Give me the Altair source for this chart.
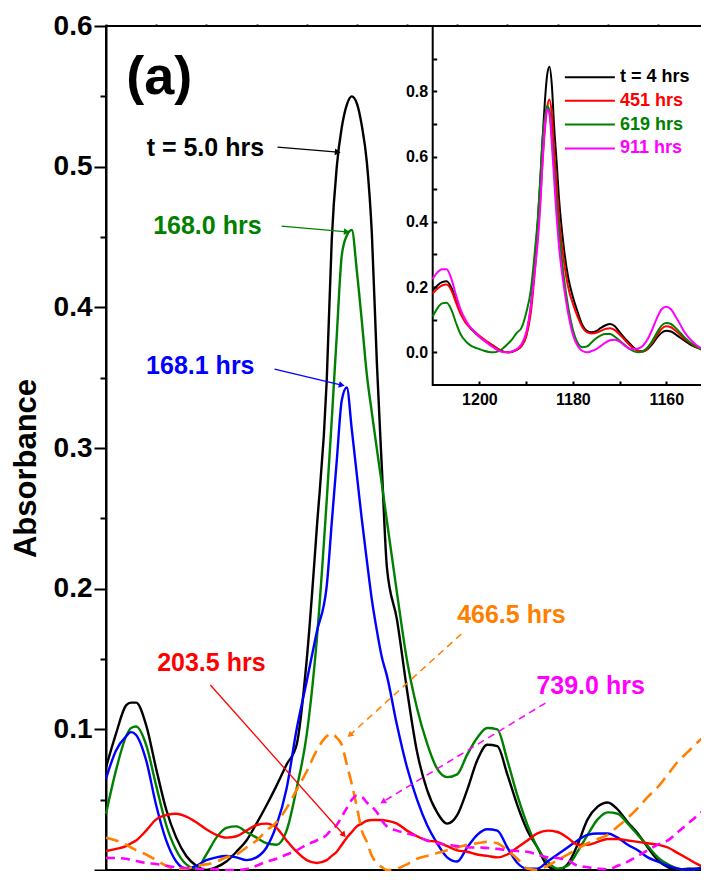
import altair as alt
import pandas as pd

FONT = "Liberation Sans"

# ---------------- main panel (wavenumber, cm-1 -> absorbance) ----------------
wavenumber = [1210, 1209, 1208, 1207.5, 1207, 1206, 1205, 1204, 1203, 1202, 1201,
              1200, 1199, 1198, 1197, 1196, 1195, 1194, 1193, 1192, 1191,
              1190, 1189, 1188, 1187.5, 1187, 1186.5, 1186, 1185.5, 1185, 1184.5,
              1184, 1183.5, 1183, 1182.5, 1182, 1181, 1180, 1179, 1178, 1177,
              1176, 1175, 1174, 1173, 1172, 1171, 1170, 1169, 1168, 1167,
              1166, 1165, 1164, 1163, 1162, 1161, 1160, 1159, 1158, 1157,
              1156, 1155, 1154, 1153, 1152, 1151, 1150]

abs_5h = [0.073, 0.097, 0.117, 0.119, 0.119, 0.103, 0.072, 0.043, 0.023, 0.010, 0.003,
          0.000, 0.002, 0.006, 0.013, 0.021, 0.033, 0.046, 0.060, 0.075, 0.089,
          0.149, 0.242, 0.348, 0.448, 0.500, 0.528, 0.544, 0.550, 0.545, 0.529,
          0.503, 0.452, 0.360, 0.285, 0.215, 0.178, 0.128, 0.084, 0.057, 0.041,
          0.033, 0.039, 0.057, 0.078, 0.089, 0.088, 0.068, 0.046, 0.028, 0.016,
          0.003, 0.000, 0.004, 0.018, 0.036, 0.045, 0.048, 0.043, 0.034, 0.026,
          0.016, 0.007, 0.002, 0.000, 0.001, 0.001, 0.003]

abs_168_0 = [0.040, 0.071, 0.095, 0.101, 0.102, 0.089, 0.060, 0.032, 0.014, 0.004, 0.001,
             0.011, 0.023, 0.030, 0.031, 0.027, 0.023, 0.019, 0.018, 0.028, 0.058,
             0.096, 0.163, 0.263, 0.320, 0.380, 0.437, 0.451, 0.455, 0.426, 0.390,
             0.352, 0.325, 0.299, 0.274, 0.248, 0.197, 0.149, 0.115, 0.090, 0.072,
             0.066, 0.068, 0.082, 0.094, 0.101, 0.100, 0.078, 0.053, 0.032, 0.016,
             0.006, 0.001, 0.003, 0.013, 0.025, 0.036, 0.041, 0.040, 0.033, 0.025,
             0.017, 0.009, 0.004, 0.001, 0.000, 0.001, 0.006]

abs_168_1 = [0.065, 0.085, 0.095, 0.098, 0.096, 0.078, 0.046, 0.021, 0.006, 0.001, 0.003,
             0.007, 0.009, 0.010, 0.009, 0.007, 0.009, 0.016, 0.032, 0.058, 0.100,
             0.134, 0.169, 0.202, 0.247, 0.291, 0.334, 0.343, 0.313, 0.281, 0.249,
             0.220, 0.192, 0.170, 0.151, 0.138, 0.103, 0.073, 0.050, 0.032, 0.019,
             0.009, 0.006, 0.016, 0.025, 0.029, 0.028, 0.016, 0.005, 0.001, 0.001,
             0.006, 0.011, 0.016, 0.021, 0.025, 0.026, 0.026, 0.023, 0.018, 0.014,
             0.009, 0.006, 0.003, 0.001, 0.000, 0.001, 0.002]

abs_203_5 = [0.0135, 0.015, 0.017, 0.019, 0.021, 0.028, 0.036, 0.039, 0.040, 0.038, 0.034,
             0.029, 0.025, 0.023, 0.024, 0.028, 0.032, 0.033, 0.030, 0.021, 0.013,
             0.007, 0.005, 0.007, 0.010, 0.013, 0.018, 0.023, 0.027, 0.031, 0.033,
             0.035, 0.0355, 0.0355, 0.0355, 0.035, 0.033, 0.028, 0.024, 0.021, 0.020,
             0.017, 0.014, 0.013, 0.011, 0.010, 0.009, 0.011, 0.016, 0.021, 0.026,
             0.028, 0.027, 0.023, 0.018, 0.018, 0.020, 0.022, 0.022, 0.021, 0.020,
             0.019, 0.018, 0.016, 0.012, 0.008, 0.004, 0.001]

abs_466_5 = [0.023, 0.021, 0.018, 0.016, 0.014, 0.011, 0.007, 0.003, 0.001, 0.001, 0.003,
             0.004, 0.006, 0.009, 0.011, 0.016, 0.021, 0.028, 0.034, 0.044, 0.057,
             0.070, 0.085, 0.095, 0.097, 0.094, 0.089, 0.075, 0.061, 0.045, 0.028,
             0.020, 0.010, 0.005, 0.002, 0.000, 0.001, 0.004, 0.008, 0.010, 0.012,
             0.014, 0.016, 0.018, 0.019, 0.020, 0.019, 0.014, 0.008, 0.001, 0.000,
             0.003, 0.007, 0.011, 0.015, 0.019, 0.022, 0.025, 0.031, 0.037, 0.044,
             0.052, 0.059, 0.068, 0.077, 0.084, 0.091, 0.097]

abs_739_0 = [0.0085, 0.0085, 0.008, 0.0072, 0.0064, 0.005, 0.0043, 0.003, 0.002, 0.0014, 0.0007,
             0.0007, 0.0004, 0.000, 0.000, 0.0007, 0.003, 0.006, 0.008, 0.011, 0.014,
             0.018, 0.021, 0.025, 0.029, 0.032, 0.038, 0.044, 0.050, 0.053, 0.052,
             0.048, 0.045, 0.041, 0.035, 0.031, 0.028, 0.026, 0.024, 0.021, 0.019,
             0.018, 0.017, 0.016, 0.016, 0.0156, 0.015, 0.014, 0.0135, 0.013, 0.011,
             0.009, 0.0085, 0.007, 0.003, 0.002, 0.001, 0.0005, 0.003, 0.006, 0.010,
             0.014, 0.018, 0.021, 0.027, 0.033, 0.039, 0.045]

main_series = [
    ("t = 5.0 hrs", abs_5h, "#000000", None),
    ("168.0 hrs", abs_168_0, "#008000", None),
    ("168.1 hrs", abs_168_1, "#0000ff", None),
    ("203.5 hrs", abs_203_5, "#ff0000", None),
    ("466.5 hrs", abs_466_5, "#ff8000", [13, 7]),
    ("739.0 hrs", abs_739_0, "#ff00ff", [9, 6]),
]

# annotation labels (text, wavenumber, absorbance, colour)
ann_text = ["t = 5.0 hrs", "168.0 hrs", "168.1 hrs", "203.5 hrs", "466.5 hrs", "739.0 hrs"]
ann_wn = [1200.1, 1199.9, 1200.6, 1199.5, 1169.6, 1161.7]
ann_abs = [0.5132, 0.4577, 0.3582, 0.1471, 0.1812, 0.1308]
ann_color = ["#000000", "#008000", "#0000ff", "#ff0000", "#ff8000", "#ff00ff"]

# annotation arrows (start -> end)
arr_wn = [1192.9, 1192.5, 1193.2, 1199.6, 1174.6, 1166.2]
arr_abs = [0.5139, 0.4577, 0.3561, 0.1315, 0.1677, 0.1187]
arr_wn2 = [1186.9, 1186.0, 1186.5, 1186.3, 1185.7, 1182.4]
arr_abs2 = [0.5103, 0.4537, 0.3447, 0.0249, 0.0959, 0.0485]
arr_color = ["#000000", "#008000", "#0000ff", "#ff0000", "#ff8000", "#ff00ff"]
arr_dashed = [False, False, False, False, True, True]
arr_angle = [5, 5, 13.5, 48.3, 137.9, 148.7]

# ---------------- inset data ----------------
inset_wn = [1210, 1209, 1208, 1207, 1206, 1205, 1204, 1203, 1202, 1201, 1200,
            1199, 1198, 1197, 1196, 1195, 1194, 1193, 1192, 1191, 1190,
            1189, 1188, 1187.5, 1187, 1186.5, 1186, 1185.5, 1185, 1184.5, 1184, 1183.5, 1183,
            1182, 1181, 1180, 1179, 1178, 1177, 1176, 1175, 1174, 1173,
            1172, 1171, 1170, 1169, 1168, 1167, 1166, 1165, 1164, 1163,
            1162, 1161, 1160, 1159, 1158, 1157, 1156, 1155, 1154, 1153,
            1152, 1151]

in_4 = [0.190, 0.205, 0.215, 0.218, 0.198, 0.160, 0.122, 0.095, 0.076, 0.061, 0.048,
        0.037, 0.028, 0.020, 0.010, 0.003, 0.000, 0.002, 0.008, 0.020, 0.050,
        0.140, 0.300, 0.400, 0.520, 0.650, 0.765, 0.850, 0.875, 0.820, 0.690, 0.590, 0.480,
        0.330, 0.230, 0.170, 0.125, 0.085, 0.066, 0.062, 0.065, 0.075, 0.083,
        0.087, 0.080, 0.062, 0.045, 0.030, 0.015, 0.005, 0.003, 0.010, 0.025,
        0.045, 0.060, 0.066, 0.064, 0.055, 0.045, 0.035, 0.025, 0.018, 0.012,
        0.006, 0.002]

in_451 = [0.180, 0.195, 0.205, 0.208, 0.190, 0.152, 0.117, 0.092, 0.076, 0.063, 0.051,
          0.040, 0.030, 0.020, 0.010, 0.003, 0.000, 0.002, 0.008, 0.020, 0.048,
          0.120, 0.270, 0.360, 0.460, 0.580, 0.680, 0.750, 0.775, 0.730, 0.620, 0.520, 0.420,
          0.290, 0.200, 0.150, 0.110, 0.078, 0.062, 0.058, 0.060, 0.066, 0.072,
          0.074, 0.068, 0.055, 0.040, 0.025, 0.012, 0.004, 0.003, 0.012, 0.030,
          0.052, 0.072, 0.080, 0.077, 0.066, 0.053, 0.040, 0.030, 0.020, 0.013,
          0.007, 0.003]

in_619 = [0.110, 0.135, 0.150, 0.152, 0.130, 0.090, 0.055, 0.035, 0.022, 0.015, 0.010,
          0.005, 0.001, 0.000, 0.003, 0.012, 0.025, 0.040, 0.060, 0.075, 0.120,
          0.190, 0.330, 0.410, 0.520, 0.650, 0.720, 0.755, 0.740, 0.660, 0.560, 0.460, 0.380,
          0.240, 0.140, 0.070, 0.030, 0.016, 0.018, 0.030, 0.043, 0.052, 0.056,
          0.056, 0.048, 0.036, 0.024, 0.012, 0.004, 0.000, 0.004, 0.015, 0.035,
          0.060, 0.082, 0.090, 0.087, 0.075, 0.060, 0.045, 0.032, 0.022, 0.013,
          0.007, 0.003]

in_911 = [0.225, 0.245, 0.255, 0.255, 0.225, 0.175, 0.130, 0.100, 0.078, 0.062, 0.048,
          0.036, 0.025, 0.015, 0.006, 0.001, 0.000, 0.003, 0.010, 0.025, 0.060,
          0.140, 0.270, 0.340, 0.440, 0.580, 0.690, 0.745, 0.730, 0.640, 0.530, 0.420, 0.330,
          0.210, 0.120, 0.055, 0.020, 0.005, 0.000, 0.004, 0.010, 0.020, 0.030,
          0.037, 0.039, 0.033, 0.022, 0.012, 0.010, 0.012, 0.020, 0.040, 0.070,
          0.105, 0.132, 0.140, 0.132, 0.110, 0.085, 0.060, 0.042, 0.028, 0.017,
          0.009, 0.004]

inset_series = [
    ("t = 4 hrs", in_4, "#000000"),
    ("451 hrs", in_451, "#ff0000"),
    ("619 hrs", in_619, "#008000"),
    ("911 hrs", in_911, "#ff00ff"),
]
legend_abs = [0.843, 0.771, 0.698, 0.625]

# ---------------- scales / axes ----------------
W, H = 602, 844
main_xs = alt.Scale(domain=[1150, 1210], reverse=True, nice=False, zero=False)
main_ys = alt.Scale(domain=[0, 0.6], nice=False, zero=False)

main_xaxis = alt.Axis(orient="bottom", values=list(range(1150, 1211, 5)), labels=False,
                      title=None, grid=False, domainWidth=2, tickWidth=2,
                      tickSize={"condition": {"test": "datum.value % 10 == 0", "value": 10}, "value": 6})
main_yaxis = alt.Axis(orient="left", values=[round(0.05 * i, 2) for i in range(13)],
                      labelExpr="(round(datum.value*100) % 10 == 0 && datum.value > 0) ? format(datum.value, '.1f') : ''",
                      title="Absorbance", titleFontSize=31, titlePadding=11, titleY=442,
                      labelFontSize=28, labelPadding=2, grid=False, domainWidth=2, tickWidth=2,
                      tickSize={"condition": {"test": "round(datum.value*100) % 10 == 0", "value": 12}, "value": 6})

def mX(field="wn"):
    return alt.X(f"{field}:Q", scale=main_xs, axis=main_xaxis)

def mY(field="A"):
    return alt.Y(f"{field}:Q", scale=main_ys, axis=main_yaxis)

main_layers = []
for name, vals, col, dash in main_series:
    df = pd.DataFrame({"wn": wavenumber, "A": vals})
    kw = dict(color=col, strokeWidth=2.4, interpolate="monotone")
    if dash:
        kw["strokeDash"] = dash
        kw["strokeWidth"] = 2.6
    main_layers.append(
        alt.Chart(df).mark_line(**kw).encode(
            x=mX(), y=mY(), order=alt.Order("wn:Q", sort="descending"))
    )

ann_df = pd.DataFrame({"wn": ann_wn, "A": ann_abs, "t": ann_text, "c": ann_color})
main_layers.append(
    alt.Chart(ann_df).mark_text(font=FONT, fontWeight="bold", fontSize=25, align="center",
                                baseline="middle").encode(
        x=mX(), y=mY(), text="t:N", color=alt.Color("c:N", scale=None))
)
tag_df = pd.DataFrame({"wn": [1204.7], "A": [0.563], "t": ["(a)"]})
main_layers.append(
    alt.Chart(tag_df).mark_text(font=FONT, fontWeight="bold", fontSize=54, align="center",
                                baseline="middle", color="black").encode(
        x=mX(), y=mY(), text="t:N")
)

arr_df = pd.DataFrame({"wn": arr_wn, "A": arr_abs, "wn2": arr_wn2, "A2": arr_abs2,
                       "c": arr_color, "dashed": arr_dashed, "ang": arr_angle})
solid_arr = arr_df[~arr_df["dashed"]]
dash_arr = arr_df[arr_df["dashed"]]
main_layers.append(
    alt.Chart(solid_arr).mark_rule(strokeWidth=1.3).encode(
        x=mX(), x2="wn2:Q", y=mY(), y2="A2:Q", color=alt.Color("c:N", scale=None))
)
main_layers.append(
    alt.Chart(dash_arr).mark_rule(strokeWidth=1.5, strokeDash=[7, 5]).encode(
        x=mX(), x2="wn2:Q", y=mY(), y2="A2:Q", color=alt.Color("c:N", scale=None))
)
main_layers.append(
    alt.Chart(arr_df).mark_point(shape="triangle-right", filled=True, size=45, opacity=1).encode(
        x=alt.X("wn2:Q", scale=main_xs, axis=main_xaxis),
        y=alt.Y("A2:Q", scale=main_ys, axis=main_yaxis),
        angle=alt.Angle("ang:Q", scale=None),
        color=alt.Color("c:N", scale=None))
)

main = alt.layer(*main_layers)

# mirror axes (top / right ticks of the frame)
mirror = alt.Chart(pd.DataFrame({"wn": [1180], "A": [0.3]})).mark_point(opacity=0).encode(
    x=alt.X("wn:Q", scale=main_xs,
            axis=alt.Axis(orient="top", values=list(range(1150, 1211, 5)), labels=False,
                          domain=False, tickSize=2, tickWidth=2, title=None, grid=False)),
    y=alt.Y("A:Q", scale=main_ys,
            axis=alt.Axis(orient="right", values=[round(0.05 * i, 2) for i in range(13)],
                          labels=False, domain=False, tickSize=5, tickWidth=2, offset=-5,
                          title=None, grid=False)),
)

# ---------------- inset ----------------
in_xs = alt.Scale(domain=[1151, 1210], range=[602.3, 326.7], nice=False, zero=False)
in_ys = alt.Scale(domain=[-0.1, 1.0], range=[359, 0], nice=False, zero=False)
in_xaxis = alt.Axis(orient="bottom", offset=-489, values=[1200, 1190, 1180, 1170, 1160],
                    labelExpr="datum.value % 20 == 0 ? format(datum.value, 'd') : ''",
                    domain=False, tickSize=4, tickWidth=2, labelFontSize=16, labelPadding=6,
                    title=None, grid=False, zindex=1)
in_yaxis = alt.Axis(orient="left", offset=-330.7, values=[round(0.1 * i, 1) for i in range(10)],
                    labelExpr="round(datum.value*10) % 2 == 0 ? format(datum.value, '.1f') : ''",
                    domain=False, tickSize=4, tickWidth=2, labelFontSize=16, labelPadding=5,
                    title=None, grid=False, zindex=1)

def iX(field="wn"):
    return alt.X(f"{field}:Q", scale=in_xs, axis=in_xaxis)

def iY(field="A"):
    return alt.Y(f"{field}:Q", scale=in_ys, axis=in_yaxis)

inset_layers = [
    alt.Chart(pd.DataFrame({"wn": [1210], "wn2": [1151], "A": [-0.1], "A2": [1.0]}))
    .mark_rect(fill="white", stroke="black", strokeWidth=2)
    .encode(x=iX(), x2="wn2:Q", y=iY(), y2="A2:Q")
]
for name, vals, col in inset_series:
    df = pd.DataFrame({"wn": inset_wn, "A": vals})
    inset_layers.append(
        alt.Chart(df).mark_line(color=col, strokeWidth=2, interpolate="monotone").encode(
            x=iX(), y=iY(), order=alt.Order("wn:Q", sort="descending"))
    )

leg_df = pd.DataFrame({
    "wn": [1181.7] * 4, "wn2": [1171.0] * 4, "wt": [1169.9] * 4,
    "A": legend_abs, "t": [s[0] for s in inset_series], "c": [s[2] for s in inset_series]})
inset_layers.append(
    alt.Chart(leg_df).mark_rule(strokeWidth=2).encode(
        x=iX(), x2="wn2:Q", y=iY(), color=alt.Color("c:N", scale=None))
)
inset_layers.append(
    alt.Chart(leg_df).mark_text(font=FONT, fontWeight="bold", fontSize=18, align="left",
                                baseline="middle").encode(
        x=alt.X("wt:Q", scale=in_xs, axis=in_xaxis), y=iY(), text="t:N",
        color=alt.Color("c:N", scale=None))
)
inset = alt.layer(*inset_layers)

chart = (
    alt.layer(main, mirror, inset)
    .resolve_scale(x="independent", y="independent")
    .properties(width=W, height=H, autosize=alt.AutoSizeParams(type="none"),
                padding={"left": 98, "top": 18, "right": -7, "bottom": 1})
    .configure_view(stroke="black", strokeWidth=2)
    .configure_axis(labelFont=FONT, labelFontWeight="bold", labelColor="black",
                    titleFont=FONT, titleFontWeight="bold", titleColor="black",
                    domainColor="black", tickColor="black")
)

chart.save("out.html", embed_options={"renderer": "svg", "actions": False})
